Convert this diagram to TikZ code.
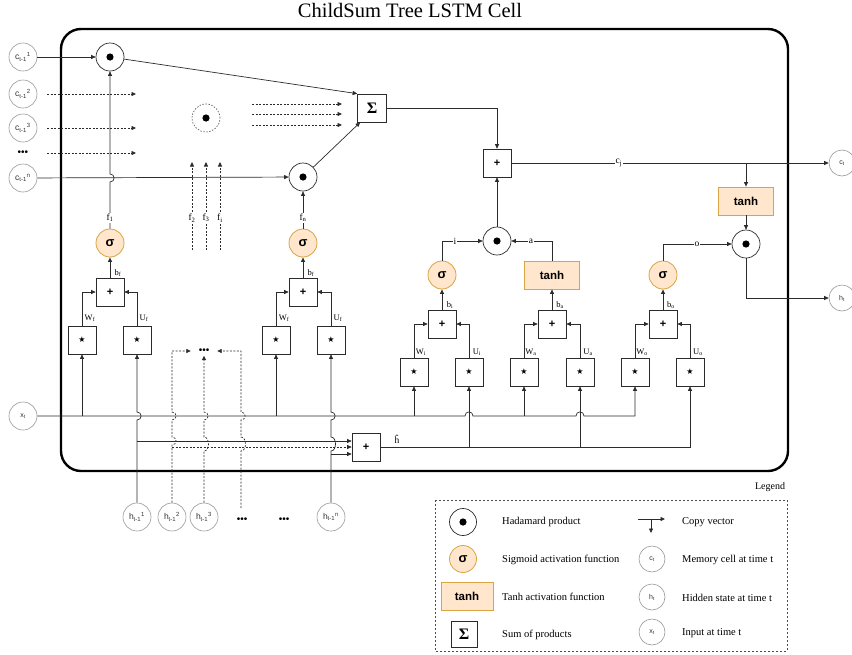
\documentclass[tikz,border=0pt]{standalone}
\usepackage{fontspec}
\setmainfont{Liberation Serif}
\setsansfont{Liberation Sans}
\newfontfamily\dejavu{DejaVu Sans}
\usetikzlibrary{arrows.meta}
\definecolor{ofill}{HTML}{FFE6CC}
\definecolor{ostroke}{HTML}{D9A441}
\definecolor{lncol}{HTML}{2B2B2B}
\newcommand\vhop[2]{-- (#1,#2+4) .. controls (#1+5.5,#2+4) and (#1+5.5,#2-4) .. (#1,#2-4)}
\newcommand\vhopb[3]{-- (#1,#2) .. controls (#1+6,#2) and (#1+6,#3) .. (#1,#3)}
\newcommand\hhop[2]{-- (#1-4,#2) .. controls (#1-4,#2-5.5) and (#1+4,#2-5.5) .. (#1+4,#2)}
\newcommand\mydots{{\sffamily\fontsize{10}{10}\selectfont •••}}
\tikzset{
  ln/.style={draw=lncol, line width=0.7pt},
  arr/.style={ln, -{Triangle[length=4.5pt,width=4pt]}},
  darr/.style={arr, dash pattern=on 2pt off 1.5pt},
  had/.style={circle, draw=lncol, line width=0.7pt, minimum size=28pt, inner sep=0pt,
    path picture={\fill[black] (path picture bounding box.center) circle (3.6pt);}},
  sig/.style={circle, draw=ostroke, fill=ofill, line width=0.8pt, minimum size=28pt, inner sep=0pt,
    font=\sffamily\bfseries\fontsize{13}{13}\selectfont},
  tnh/.style={rectangle, draw=ostroke, fill=ofill, line width=0.8pt, minimum width=55pt, minimum height=28pt,
    inner sep=0pt, font=\sffamily\bfseries\fontsize{11.5}{12}\selectfont},
  opbox/.style={rectangle, draw=lncol, line width=0.7pt, fill=white, minimum size=28pt, inner sep=0pt,
    font=\sffamily\bfseries\fontsize{11}{11}\selectfont},
  starbox/.style={opbox, font=\dejavu\fontsize{8}{8}\selectfont},
  inc/.style={circle, draw=black!40, line width=0.6pt, fill=white, minimum size=28pt, inner sep=0pt,
    font=\sffamily\fontsize{8.5}{9}\selectfont, text=black!80},
  incs/.style={inc, minimum size=26pt, font=\sffamily\fontsize{7}{7}\selectfont},
  lab/.style={font=\fontsize{9.5}{10}\selectfont, fill=white, inner sep=0.8pt},
  slab/.style={font=\fontsize{8.5}{9}\selectfont, inner sep=0.5pt},
  legtxt/.style={anchor=west, font=\fontsize{10.5}{11}\selectfont, inner sep=0pt},
}
\begin{document}
\begin{tikzpicture}[x=1pt,y=-1pt]
\useasboundingbox (0,0) rectangle (852,654);
\node[font=\fontsize{20.5}{21}\selectfont] (title) at (410,10) {ChildSum Tree LSTM Cell};
\node[draw=black, line width=2.4pt, rounded corners=20pt, minimum width=727pt, minimum height=442pt] (cell) at (424.5,250) {};

% inputs / outputs
\node[inc] (c1) at (23,57) {c\textsubscript{t-1}\textsuperscript{1}};
\node[inc] (c2) at (23,94) {c\textsubscript{t-1}\textsuperscript{2}};
\node[inc] (c3) at (23,128) {c\textsubscript{t-1}\textsuperscript{3}};
\node[inner sep=0pt] (cdots) at (23,153) {\mydots};
\node[inc] (cn) at (23,178) {c\textsubscript{t-1}\textsuperscript{n}};
\node[incs, minimum size=28pt] (xt) at (23,416) {x\textsubscript{t}};
\node[inc] (h1) at (137,517) {h\textsubscript{t-1}\textsuperscript{1}};
\node[inc] (h2) at (172,517) {h\textsubscript{t-1}\textsuperscript{2}};
\node[inc] (h3) at (204,517) {h\textsubscript{t-1}\textsuperscript{3}};
\node[inner sep=0pt] (hd1) at (242,520) {\mydots};
\node[inner sep=0pt] (hd2) at (284,520) {\mydots};
\node[inc] (hn) at (331,517) {h\textsubscript{t-1}\textsuperscript{n}};
\node[incs] (ct) at (842,163) {c\textsubscript{t}};
\node[incs] (ht) at (842,298) {h\textsubscript{t}};

% core nodes
\node[had] (had1) at (110,57) {};
\node[had, draw=black!60, dash pattern=on 1.5pt off 1.5pt] (hadd) at (206,118) {};
\node[had] (hadn) at (303,177) {};
\node[opbox, minimum width=29pt, font=\bfseries\fontsize{16}{16}\selectfont] (sum) at (372,108) {Σ};
\node[opbox] (pc) at (497,163) {+};
\node[had] (hia) at (497,241) {};
\node[tnh] (tc) at (746,201) {tanh};
\node[had] (hout) at (746,244) {};

% forget gate 1
\node[sig] (sf1) at (110,243) {σ};
\node[opbox] (pf1) at (110,292) {+};
\node[starbox] (swf1) at (82,340) {★};
\node[starbox] (suf1) at (137,340) {★};
% forget gate n
\node[sig] (sfn) at (303,243) {σ};
\node[opbox] (pfn) at (303,292) {+};
\node[starbox] (swfn) at (276,340) {★};
\node[starbox] (sufn) at (331,340) {★};
% input gate
\node[sig] (si) at (442,275) {σ};
\node[opbox] (pi) at (442,324) {+};
\node[starbox] (swi) at (414,372) {★};
\node[starbox] (sui) at (469,372) {★};
% candidate
\node[tnh] (ta) at (552,275) {tanh};
\node[opbox] (pa) at (552,324) {+};
\node[starbox] (swa) at (524,372) {★};
\node[starbox] (sua) at (580,372) {★};
% output gate
\node[sig] (so) at (663,275) {σ};
\node[opbox] (po) at (663,324) {+};
\node[starbox] (swo) at (635,372) {★};
\node[starbox] (suo) at (690,372) {★};
% h-hat sum
\node[opbox] (ph) at (366,447) {+};
\node[inner sep=0pt, minimum width=26pt, minimum height=9pt] (dd) at (204,351) {\mydots};

% top connectors
\draw[arr] (c1) -- (had1);
\draw[arr] (cn) -- (hadn);
\draw[arr] (had1) -- (sum.north west);
\draw[arr] (hadn) -- ([xshift=3pt]sum.south west);
\draw[arr] (sum) -| (pc);
\draw[arr] (hia) -- (pc);
\draw[arr] (pc) -- (ct);
\coordinate (cbr) at (746,163);
\draw[arr] (cbr) -- (tc);
\draw[arr] (tc) -- (hout);
\draw[arr] (hout) |- (ht);
\draw[arr] (si) |- (hia);
\draw[arr] (ta) |- (hia);
\draw[arr] (so) |- (hout);

% dashed placeholders
\foreach \yy/\nm in {94/a,128/b,153/c}{
  \coordinate (cs\nm) at (47,\yy); \coordinate (ce\nm) at (136,\yy);
  \draw[darr] (cs\nm) -- (ce\nm);}
\foreach \yy/\nm in {104/a,114/b,125/c}{
  \coordinate (ss\nm) at (252,\yy); \coordinate (se\nm) at (342,\yy);
  \draw[darr] (ss\nm) -- (se\nm);}
\foreach \xx/\nm in {192/a,206/b,220/c}{
  \coordinate (fs\nm) at (\xx,250); \coordinate (fe\nm) at (\xx,162);
  \draw[darr] (fs\nm) -- (fe\nm);}
\node[lab] (lf2) at (192,218) {f\textsubscript{2}};
\node[lab] (lf3) at (206,218) {f\textsubscript{3}};
\node[lab] (lfi) at (220,218) {f\textsubscript{i}};

% forget gates
\draw[arr] (sf1) \vhop{110}{178} -- (had1);
\draw[arr] (sfn) -- (hadn);
\node[lab] (lf1) at (110,218) {f\textsubscript{1}};
\node[lab] (lfn) at (303,218) {f\textsubscript{n}};
\draw[arr] (pf1) -- (sf1);
\draw[arr] (swf1) |- (pf1);
\draw[arr] (suf1) |- (pf1);
\draw[arr] (pfn) -- (sfn);
\draw[arr] (swfn) |- (pfn);
\draw[arr] (sufn) |- (pfn);
% gates
\draw[arr] (pi) -- (si);
\draw[arr] (swi) |- (pi);
\draw[arr] (sui) |- (pi);
\draw[arr] (pa) -- (ta);
\draw[arr] (swa) |- (pa);
\draw[arr] (sua) |- (pa);
\draw[arr] (po) -- (so);
\draw[arr] (swo) |- (po);
\draw[arr] (suo) |- (po);

% labels
\node[slab] (lbf1) at (118,273) {b\textsubscript{f}};
\node[slab] (lbfn) at (311,273) {b\textsubscript{f}};
\node[slab] (lwf1) at (90,318) {W\textsubscript{f}};
\node[slab] (luf1) at (144,318) {U\textsubscript{f}};
\node[slab] (lwfn) at (284,318) {W\textsubscript{f}};
\node[slab] (lufn) at (338,318) {U\textsubscript{f}};
\node[slab] (lbi) at (450,305) {b\textsubscript{i}};
\node[slab] (lba) at (560,305) {b\textsubscript{a}};
\node[slab] (lbo) at (671,305) {b\textsubscript{o}};
\node[slab] (lwi) at (421,352) {W\textsubscript{i}};
\node[slab] (lui) at (477,352) {U\textsubscript{i}};
\node[slab] (lwa) at (531,352) {W\textsubscript{a}};
\node[slab] (lua) at (588,352) {U\textsubscript{a}};
\node[slab] (lwo) at (642,352) {W\textsubscript{o}};
\node[slab] (luo) at (698,352) {U\textsubscript{o}};
\node[lab] (li) at (455,241) {i};
\node[lab] (la) at (531,241) {a};
\node[lab] (lo) at (697,244) {o};
\node[lab] (lcj) at (619,163) {c\textsubscript{j}};
\node[slab, font=\fontsize{9.5}{10}\selectfont] (lhh) at (397,439) {ĥ};

% x_t line
\draw[arr] (xt) \hhop{469}{416} \hhop{580}{416} -| (swo);
\draw[arr] (swf1 |- xt) -- (swf1);
\draw[arr] (swfn |- xt) -- (swfn);
\draw[arr] (swi |- xt) -- (swi);
\draw[arr] (swa |- xt) -- (swa);

% h lines
\draw[arr] (h1) \vhop{137}{416} -- (suf1);
\coordinate (j1) at (137,441);
\draw[arr] (j1) -- (j1 -| ph.west);
\draw[darr] (h2) \vhop{172}{441} \vhop{172}{416} |- (dd);
\coordinate (j2) at (172,447);
\draw[darr] (j2) -- (ph);
\draw[darr] (h3) \vhopb{204}{451}{437} \vhop{204}{416} -- (dd);
\coordinate (dv) at (241,508);
\draw[darr] (dv) \vhopb{241}{451}{437} \vhop{241}{416} |- (dd);
\draw[arr] (hn) \vhopb{331}{451}{437} \vhop{331}{416} -- (sufn);
\coordinate (j3) at (331,454);
\draw[arr] (j3) -- (j3 -| ph.west);

% h-hat line
\draw[arr] (ph) -| (suo);
\draw[arr] (sui |- ph) -- (sui);
\draw[arr] (sua |- ph) -- (sua);

% legend
\node[font=\fontsize{10}{10}\selectfont] (legend) at (770,487) {Legend};
\draw[draw=black!70, line width=0.6pt, dash pattern=on 2pt off 2pt] (435,500) rectangle (787,651);
\node[had, minimum size=27pt] (lhad) at (463,522) {};
\node[sig, minimum size=27pt] (lsig) at (463,559) {σ};
\node[tnh, minimum width=52pt] (ltanh) at (467,596) {tanh};
\node[opbox, minimum size=26pt, font=\bfseries\fontsize{16}{16}\selectfont] (lsum) at (464,634) {Σ};
\node[legtxt] (t1) at (502,522) {Hadamard product};
\node[legtxt] (t2) at (502,560) {Sigmoid activation function};
\node[legtxt] (t3) at (502,597) {Tanh activation function};
\node[legtxt] (t4) at (502,635) {Sum of products};
\coordinate (cv1) at (638,519);
\coordinate (cv2) at (665,519);
\coordinate (cv3) at (651,519);
\coordinate (cv4) at (651,533);
\draw[arr] (cv1) -- (cv2);
\draw[arr] (cv3) -- (cv4);
\node[incs] (lct) at (652,559) {c\textsubscript{t}};
\node[incs] (lht) at (652,597) {h\textsubscript{t}};
\node[incs] (lxt) at (652,632) {x\textsubscript{t}};
\node[legtxt] (t5) at (682,522) {Copy vector};
\node[legtxt] (t6) at (682,560) {Memory cell at time t};
\node[legtxt] (t7) at (682,598) {Hidden state at time t};
\node[legtxt] (t8) at (682,633) {Input at time t};
\end{tikzpicture}
\end{document}
